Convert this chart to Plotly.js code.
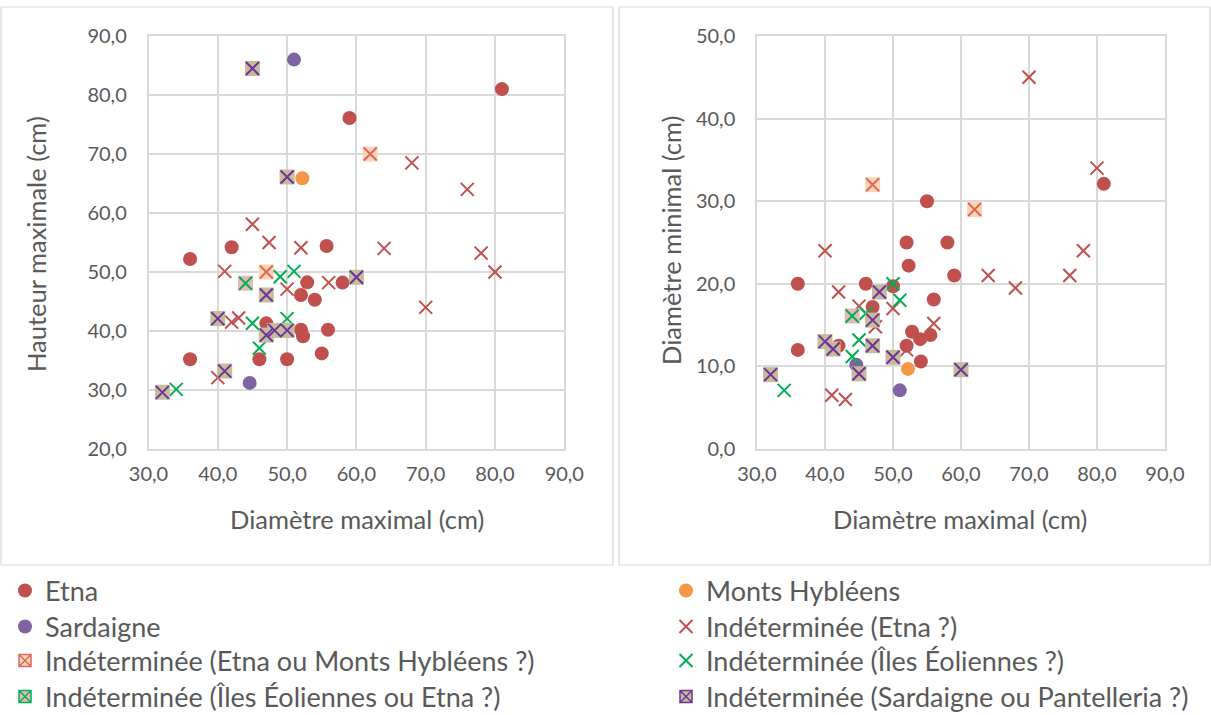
<!DOCTYPE html>
<html>
<head>
<meta charset="utf-8">
<script src="https://cdn.plot.ly/plotly-3.0.1.min.js"></script>
<style>html,body{margin:0;padding:0;background:#fff;}#chart{width:1211px;height:715px;}</style>
</head>
<body>
<div id="chart"></div>
<script>
// ---- Data ----
// Panel A: Diamètre maximal vs Hauteur maximale ; Panel B: Diamètre maximal vs Diamètre minimal
const seriesNames = [
  "Etna", "Monts Hybléens", "Sardaigne", "Indéterminée (Etna ?)",
  "Indéterminée (Etna ou Monts Hybléens ?)", "Indéterminée (Îles Éoliennes ?)",
  "Indéterminée (Îles Éoliennes ou Etna ?)", "Indéterminée (Sardaigne ou Pantelleria ?)"
];

const etnaDmaxA = [36, 42, 55.7, 52.9, 58, 52, 54, 47, 52, 52.3, 55.9, 36, 46, 50, 55, 59, 81];
const etnaHaut  = [52.2, 54.2, 54.4, 48.25, 48.2, 46.1, 45.3, 41.3, 40.2, 39.1, 40.2, 35.2, 35.2, 35.2, 36.2, 76.1, 81];
const etnaDmaxB = [55, 52, 58, 52.3, 59, 36, 46, 50, 56, 47, 52.8, 55.5, 54, 52, 42, 36, 54.1, 81];
const etnaDmin  = [30, 25, 25, 22.2, 21, 20, 20, 19.7, 18.1, 17.2, 14.2, 13.8, 13.3, 12.5, 12.5, 12, 10.6, 32.1];

const mhDmax = [52.2];
const mhHaut = [65.9];
const mhDmin = [9.7];

const sardDmax = [51, 44.6];
const sardHaut = [86, 31.2];
const sardDmin = [7.1, 10.2];

const etnaQDmax = [45, 47.4, 52, 64, 41, 50, 56, 43, 42, 40, 68, 76, 78, 80, 70];
const etnaQHaut = [58.1, 55, 54.1, 54, 50.1, 47.1, 48.2, 42.2, 41.5, 32.1, 68.5, 64, 53.2, 50, 44];
const etnaQDmin = [17.3, 14.8, 12, 21, 6.5, 17, 15.2, 6, 19, 24, 19.5, 21, 24, 34, 45];

const etnaMhDmax = [62, 47];
const etnaMhHaut = [70, 50];
const etnaMhDmin = [29, 32];

const eolDmaxA = [34, 49, 51, 45, 50, 46];
const eolHaut  = [30.1, 49.2, 50.1, 41.3, 42.1, 37.1];
const eolDmaxB = [34, 50, 51, 45, 44, 46];
const eolDmin  = [7.1, 20, 18, 13.2, 11.2, 16.4];

const eolEtnaDmax = [44];
const eolEtnaHaut = [48.1];
const eolEtnaDmin = [16.1];

const sardPantDmaxA = [45, 50, 60, 47, 40, 47, 48.2, 50, 41, 32];
const sardPantHaut  = [84.5, 66.1, 49.1, 46.1, 42.1, 39.3, 40.1, 40.1, 33.2, 29.6];
const sardPantDmaxB = [45, 60, 48, 47, 40, 47, 41.2, 50, 32];
const sardPantDmin  = [9.1, 9.6, 19, 15.6, 13, 12.5, 12.1, 11.1, 9];

const xTickVals = [30, 40, 50, 60, 70, 80, 90];
const yTickValsA = [20, 30, 40, 50, 60, 70, 80, 90];
const yTickValsB = [0, 10, 20, 30, 40, 50];

// ---- Styles ----
const RED = "#C0504D", PURPLE = "#8064A2", ORANGE = "#F79646", GREEN = "#00B050";
const DPURPLE = "#7030A0", PEACH = "#FCD5B5", PINK = "#E6B9B8", KHAKI = "#C4BD97", XRED = "#D9695F";

const traces = [];
function circle(name, xa, ya, xb, yb, color, leg) {
  traces.push({type: "scatter", mode: "markers", name: name, legendgroup: name, legend: leg, x: xa, y: ya,
    xaxis: "x", yaxis: "y", marker: {symbol: "circle", size: 14, color: color}});
  traces.push({type: "scatter", mode: "markers", name: name, legendgroup: name, legend: leg, showlegend: false, x: xb, y: yb,
    xaxis: "x2", yaxis: "y2", marker: {symbol: "circle", size: 14, color: color}});
}
function cross(name, xa, ya, xb, yb, color, leg) {
  const m = {symbol: "x-thin-open", size: 13, color: color, line: {color: color, width: 2}};
  traces.push({type: "scatter", mode: "markers", name: name, legendgroup: name, legend: leg, x: xa, y: ya,
    xaxis: "x", yaxis: "y", marker: m});
  traces.push({type: "scatter", mode: "markers", name: name, legendgroup: name, legend: leg, showlegend: false, x: xb, y: yb,
    xaxis: "x2", yaxis: "y2", marker: m});
}
function boxedCross(name, xa, ya, xb, yb, sqColor, xColor, leg) {
  // legend-only entry
  traces.push({type: "scatter", mode: "markers", name: name, legendgroup: name, legend: leg, x: [null], y: [null],
    xaxis: "x", yaxis: "y", marker: {symbol: "square-x", size: 12, color: sqColor, line: {color: xColor, width: 1.5}}});
  [["x", "y", xa, ya], ["x2", "y2", xb, yb]].forEach(function (p) {
    traces.push({type: "scatter", mode: "markers", name: name, legendgroup: name, legend: leg, showlegend: false,
      x: p[2], y: p[3], xaxis: p[0], yaxis: p[1], marker: {symbol: "square", size: 15, color: sqColor}, hoverinfo: "skip"});
    traces.push({type: "scatter", mode: "markers", name: name, legendgroup: name, legend: leg, showlegend: false,
      x: p[2], y: p[3], xaxis: p[0], yaxis: p[1],
      marker: {symbol: "x-thin-open", size: 13, color: xColor, line: {color: xColor, width: 2}}});
  });
}

// one single-entry legend per series, so each row can be placed exactly
circle(seriesNames[0], etnaDmaxA, etnaHaut, etnaDmaxB, etnaDmin, RED, "legend");
circle(seriesNames[1], mhDmax, mhHaut, mhDmax, mhDmin, ORANGE, "legend2");
circle(seriesNames[2], sardDmax, sardHaut, sardDmax, sardDmin, PURPLE, "legend3");
cross(seriesNames[3], etnaQDmax, etnaQHaut, etnaQDmax, etnaQDmin, RED, "legend4");
boxedCross(seriesNames[4], etnaMhDmax, etnaMhHaut, etnaMhDmax, etnaMhDmin, PEACH, XRED, "legend5");
cross(seriesNames[5], eolDmaxA, eolHaut, eolDmaxB, eolDmin, GREEN, "legend6");
boxedCross(seriesNames[6], eolEtnaDmax, eolEtnaHaut, eolEtnaDmax, eolEtnaDmin, PINK, GREEN, "legend7");
boxedCross(seriesNames[7], sardPantDmaxA, sardPantHaut, sardPantDmaxB, sardPantDmin, KHAKI, DPURPLE, "legend8");

const W = 1211, H = 715;
const px = v => v / W, py = v => 1 - v / H;
const FONT = "Lato, 'Open Sans', sans-serif";
const TXT = "#595959";
const GRID = "#D9D9D9";

function axis(domain, range, anchor, extra) {
  return Object.assign({
    domain: domain, range: range, anchor: anchor, tickmode: "array", tickformat: ".1f",
    showgrid: true, gridcolor: GRID, gridwidth: 1.5, zeroline: false,
    showline: true, mirror: true, linecolor: GRID, linewidth: 1.5, ticks: "",
    tickfont: {family: FONT, size: 20, color: TXT}, fixedrange: true
  }, extra);
}

function legendAt(xPix, yPix) {
  return {
    orientation: "v", yanchor: "middle", xanchor: "left", bgcolor: "rgba(0,0,0,0)",
    font: {family: FONT, size: 27, color: TXT}, itemwidth: 30,
    itemclick: false, itemdoubleclick: false, x: px(xPix), y: py(yPix)
  };
}

const rowY = [591, 627, 661, 697];
const colX = [5, 666];

const layout = {
  width: W, height: H, margin: {l: 0, r: 0, t: 0, b: 0, autoexpand: false},
  paper_bgcolor: "#fff", plot_bgcolor: "#fff",
  separators: ", ", font: {family: FONT, color: TXT},
  showlegend: true, hovermode: "closest",
  xaxis: axis([px(148.5), px(564.3)], [30, 90], "y", {tickvals: xTickVals, ticklabelstandoff: 6}),
  yaxis: axis([py(449), py(36)], [20, 90], "x", {tickvals: yTickValsA, ticklabelstandoff: 16}),
  xaxis2: axis([px(757), px(1165)], [30, 90], "y2", {tickvals: xTickVals, ticklabelstandoff: 6}),
  yaxis2: axis([py(449), py(36)], [0, 50], "x2", {tickvals: yTickValsB, ticklabelstandoff: 16}),
  legend:  legendAt(colX[0], rowY[0]),
  legend2: legendAt(colX[1], rowY[0]),
  legend3: legendAt(colX[0], rowY[1]),
  legend4: legendAt(colX[1], rowY[1]),
  legend5: legendAt(colX[0], rowY[2]),
  legend6: legendAt(colX[1], rowY[2]),
  legend7: legendAt(colX[0], rowY[3]),
  legend8: legendAt(colX[1], rowY[3]),
  shapes: [
    {type: "rect", xref: "paper", yref: "paper", x0: px(1), x1: px(613), y0: py(565), y1: py(7), line: {color: GRID, width: 1.2}},
    {type: "rect", xref: "paper", yref: "paper", x0: px(619), x1: px(1210), y0: py(565), y1: py(7), line: {color: GRID, width: 1.2}}
  ],
  annotations: [
    {text: "Diamètre maximal (cm)", xref: "paper", yref: "paper", x: px(357), y: py(519), showarrow: false,
      xanchor: "center", yanchor: "middle", font: {family: FONT, size: 25.5, color: TXT}},
    {text: "Diamètre maximal (cm)", xref: "paper", yref: "paper", x: px(960), y: py(519), showarrow: false,
      xanchor: "center", yanchor: "middle", font: {family: FONT, size: 25.5, color: TXT}},
    {text: "Hauteur maximale (cm)", xref: "paper", yref: "paper", x: px(36), y: py(244), showarrow: false,
      textangle: -90, xanchor: "center", yanchor: "middle", font: {family: FONT, size: 25.5, color: TXT}},
    {text: "Diamètre minimal (cm)", xref: "paper", yref: "paper", x: px(671), y: py(241), showarrow: false,
      textangle: -90, xanchor: "center", yanchor: "middle", font: {family: FONT, size: 25.5, color: TXT}}
  ]
};

Plotly.newPlot("chart", traces, layout, {displayModeBar: false});
</script>
</body>
</html>
